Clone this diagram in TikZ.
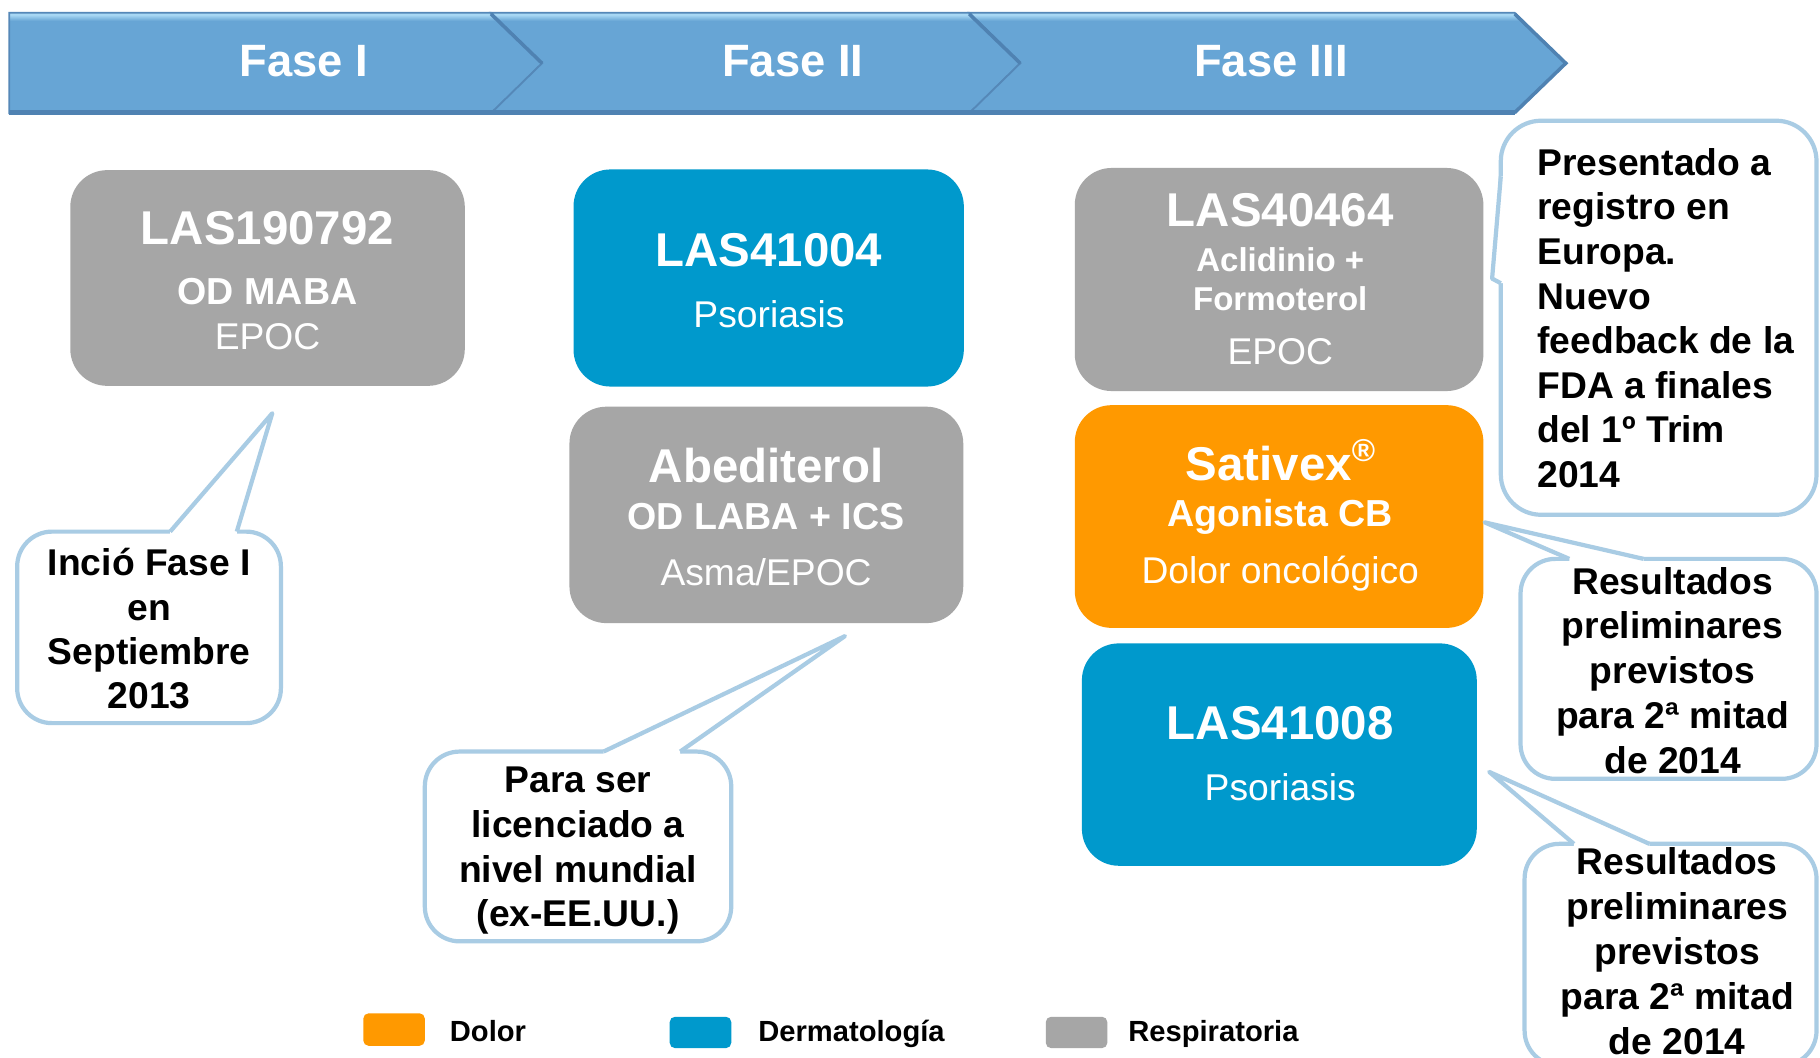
\documentclass[tikz,border=0pt]{standalone}
\usepackage{fontspec}
\setmainfont{Liberation Sans}
\definecolor{grayb}{HTML}{A6A6A6}
\definecolor{blueb}{HTML}{0099CC}
\definecolor{orangeb}{HTML}{FF9900}
\definecolor{calline}{HTML}{A9CCE4}
\definecolor{hdrmain}{HTML}{67A5D5}
\definecolor{hdrlight}{HTML}{A8D8F4}
\definecolor{hdrdark}{HTML}{4F82B2}
\definecolor{hdredge}{HTML}{5588B8}
\pgfdeclareverticalshading{hdrshade}{100bp}{color(0bp)=(hdrdark); color(25bp)=(hdrdark); color(26.5bp)=(hdrmain); color(71bp)=(hdrmain); color(74bp)=(hdrlight); color(100bp)=(hdrlight)}
\tikzset{
  box/.style={rectangle, rounded corners=10.5pt, inner sep=0pt, draw=none},
  ttl/.style={text=white, font=\bfseries\fontsize{13.5}{16}\selectfont, anchor=base, inner sep=0pt},
  sub/.style={text=white, font=\bfseries\fontsize{10.7}{13}\selectfont, anchor=base, inner sep=0pt},
  subsm/.style={text=white, font=\bfseries\fontsize{9.4}{11}\selectfont, anchor=base, inner sep=0pt},
  reg/.style={text=white, font=\fontsize{10.6}{13}\selectfont, anchor=base, inner sep=0pt},
  calltxt/.style={text=black, font=\bfseries\fontsize{10.6}{13}\selectfont, anchor=base, inner sep=0pt},
  calltxtl/.style={calltxt, anchor=base west},
  hdr/.style={text=white, font=\bfseries\fontsize{12.9}{15}\selectfont, anchor=base, inner sep=0pt},
  leg/.style={text=black, font=\bfseries\fontsize{8.3}{10}\selectfont, anchor=base west, inner sep=0pt},
  legsq/.style={rounded corners=1.5pt},
  callout/.style={draw=calline, line width=1.2pt, fill=white, rounded corners=9.9pt},
  ptr/.style={draw=calline, line width=1.2pt, line join=round},
  chev/.style={shading=hdrshade, draw=hdredge, line width=0.5pt, line join=miter}
}
\begin{document}
\begin{tikzpicture}[x=0.011607cm, y=-0.011607cm]
\useasboundingbox (0,0) rectangle (1568,911.5);
\clip (0,0) rectangle (1568,911.5);
\fill[white] (0,0) rectangle (1568,911.5);

% header chevrons
\path[chev] (8,11) -- (423,11) -- (467,54.5) -- (423,97.5) -- (8,97.5) -- cycle;
\path[chev] (423,11) -- (835,11) -- (879,54.5) -- (835,97.5) -- (423,97.5) -- (467,54.5) -- cycle;
\path[chev] (835,11) -- (1305,11) -- (1349,54.5) -- (1305,97.5) -- (835,97.5) -- (879,54.5) -- cycle;
\draw[hdrdark, line width=1pt] (423,12) -- (467,54.5);
\draw[hdrdark, line width=1pt] (835,12) -- (879,54.5);
\draw[hdrdark, line width=1pt] (1305,12) -- (1349,54.5) -- (1305,97);
\draw[hdrdark, line width=1.2pt] (8,97) -- (1305,97);
\node[hdr] (f1) at (262,66) {Fase I};
\node[hdr] (f2) at (683,66) {Fase II};
\node[hdr] (f3) at (1095,66) {Fase III};

% drug boxes
\node[box, fill=grayb, minimum width=112.3pt, minimum height=61.4pt] (b1) at (230.5,239.5) {};
\node[box, fill=blueb, minimum width=111.1pt, minimum height=61.8pt] (b2) at (662.25,239.5) {};
\node[box, fill=grayb, minimum width=112.1pt, minimum height=61.6pt] (b3) at (660.25,443.6) {};
\node[box, fill=grayb, minimum width=116.3pt, minimum height=63.5pt] (b4) at (1102,240.8) {};
\node[box, fill=orangeb, minimum width=116.3pt, minimum height=63.4pt] (b5) at (1102,445) {};
\node[box, fill=blueb, minimum width=112.4pt, minimum height=63.3pt] (b6) at (1102.2,650.1) {};

\node[ttl] (t1a) at (230.5,211) {LAS190792};
\node[sub] (t1b) at (230.5,262) {OD MABA};
\node[reg] (t1c) at (230.5,301) {EPOC};

\node[ttl] (t2a) at (662.5,230) {LAS41004};
\node[reg] (t2b) at (662.5,282) {Psoriasis};

\node[ttl] (t3a) at (660,416) {Abediterol};
\node[sub] (t3b) at (660,456.6) {OD LABA + ICS};
\node[reg] (t3c) at (660,504) {Asma/EPOC};

\node[ttl] (t4a) at (1103,195.4) {LAS40464};
\node[subsm] (t4b) at (1103,233.8) {Aclidinio +};
\node[subsm] (t4c) at (1103,267.7) {Formoterol};
\node[reg] (t4d) at (1103,313.8) {EPOC};

\node[ttl] (t5a) at (1104,413.8) {Sativex\textsuperscript{\fontsize{9}{10}\selectfont ®}};
\node[sub] (t5b) at (1103,453.8) {Agonista CB};
\node[reg] (t5c) at (1103,503) {Dolor oncológico};

\node[ttl] (t6a) at (1103,637.5) {LAS41008};
\node[reg] (t6b) at (1103,689.8) {Psoriasis};

% callout tips
\coordinate (tipA) at (234.6,356);
\coordinate (tipB) at (728,548);
\coordinate (tipC) at (1285.5,240);
\coordinate (tipD) at (1279,450);
\coordinate (tipE) at (1283,665);

% callout A
\draw[callout] (14.8,458) rectangle (242,623);
\fill[white] (146.6,458) -- (tipA) -- (204,458) -- (204,461) -- (146.6,461) -- cycle;
\draw[ptr] (146.6,458) -- (tipA) -- (204,458);
\node[calltxt] (ca1) at (128.6,495.4) {Inció Fase I};
\node[calltxt] (ca2) at (128.6,534.4) {en};
\node[calltxt] (ca3) at (128.6,572.3) {Septiembre};
\node[calltxt] (ca4) at (128.6,610.2) {2013};

% callout B
\draw[callout] (366,647.5) rectangle (630,811);
\fill[white] (520,647.5) -- (tipB) -- (586,647.5) -- (586,650.5) -- (520,650.5) -- cycle;
\draw[ptr] (520,647.5) -- (tipB) -- (586,647.5);
\node[calltxt] (cb1) at (498,683) {Para ser};
\node[calltxt] (cb2) at (498,721.4) {licenciado a};
\node[calltxt] (cb3) at (498,760.4) {nivel mundial};
\node[calltxt] (cb4) at (498,798.3) {(ex-EE.UU.)};

% callout C
\draw[callout, rounded corners=11.5pt] (1293,104) rectangle (1565,443.5);
\fill[white] (1293,152) -- (tipC) -- (1293,244) -- (1296.5,244) -- (1296.5,152) -- cycle;
\draw[ptr] (1293,152) -- (tipC) -- (1293,244);
\node[calltxtl] (cc1) at (1324,150.8) {Presentado a};
\node[calltxtl] (cc2) at (1324,189.3) {registro en};
\node[calltxtl] (cc3) at (1324,227.8) {Europa.};
\node[calltxtl] (cc4) at (1324,266.3) {Nuevo};
\node[calltxtl] (cc5) at (1324,304.6) {feedback de la};
\node[calltxtl] (cc6) at (1324,343) {FDA a finales};
\node[calltxtl] (cc7) at (1324,381.5) {del 1º Trim};
\node[calltxtl] (cc8) at (1324,420) {2014};

% callout D
\draw[callout] (1310,481.5) rectangle (1565,671);
\fill[white] (1352,481.5) -- (tipD) -- (1416,481.5) -- (1416,484.5) -- (1352,484.5) -- cycle;
\draw[ptr] (1352,481.5) -- (tipD) -- (1416,481.5);
\node[calltxt] (cd1) at (1441,512) {Resultados};
\node[calltxt] (cd2) at (1441,550.5) {preliminares};
\node[calltxt] (cd3) at (1441,589) {previstos};
\node[calltxt] (cd4) at (1441,627.5) {para 2ª mitad};
\node[calltxt] (cd5) at (1441,666) {de 2014};

% callout E
\draw[callout] (1313.5,727) rectangle (1565,918);
\fill[white] (1356,727) -- (tipE) -- (1421,727) -- (1421,730) -- (1356,730) -- cycle;
\draw[ptr] (1356,727) -- (tipE) -- (1421,727);
\node[calltxt] (ce1) at (1445,753.8) {Resultados};
\node[calltxt] (ce2) at (1445,792.6) {preliminares};
\node[calltxt] (ce3) at (1445,831.3) {previstos};
\node[calltxt] (ce4) at (1445,870) {para 2ª mitad};
\node[calltxt] (ce5) at (1445,908.9) {de 2014};

% legend
\fill[orangeb, legsq] (313,873) rectangle (366,901);
\fill[blueb, legsq] (577,876) rectangle (630,903);
\fill[grayb, legsq] (901,876) rectangle (954,903);
\node[leg] (l1) at (387,897) {Dolor};
\node[leg] (l2) at (652.7,897) {Dermatología};
\node[leg] (l3) at (971.5,897) {Respiratoria};
\end{tikzpicture}
\end{document}
